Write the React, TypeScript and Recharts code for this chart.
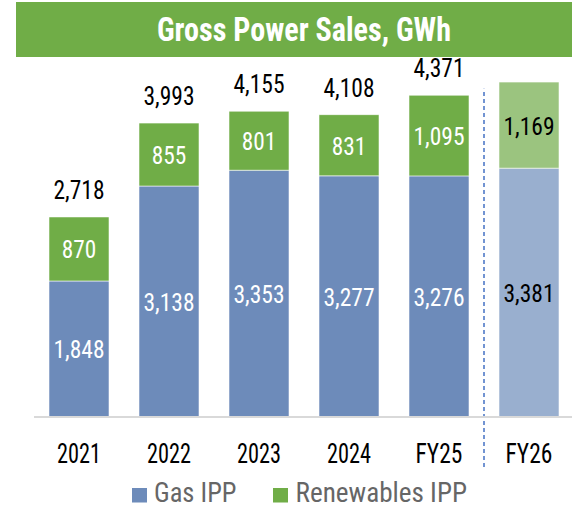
import React from 'react';
import { BarChart, Bar, XAxis, YAxis, Cell, LabelList, ReferenceLine, Legend } from 'recharts';

const categories = ['2021', '2022', '2023', '2024', 'FY25', 'FY26'];
const gasIPP = [1848, 3138, 3353, 3277, 3276, 3381];
const renewablesIPP = [870, 855, 801, 831, 1095, 1169];
const totals: (number | null)[] = [2718, 3993, 4155, 4108, 4371, null];
const forecastCategories = ['FY26'];
const seriesNames = ['Gas IPP', 'Renewables IPP'];
const chartTitle = 'Gross Power Sales, GWh';
const yDomain = [0, 5000];
const separatorAfter = 'FY25';
const separatorSpan = [-680, 4460];

const data = categories.map((c, i) => ({
  category: c,
  gas: gasIPP[i],
  renewables: renewablesIPP[i],
  total: totals[i],
}));

const FONT = "'Liberation Sans Narrow', 'Arial Narrow', 'Roboto Condensed', Roboto, sans-serif";
const GAS = '#6D8BBA';
const GAS_LIGHT = '#99AFCF';
const GREEN = '#70AD47';
const GREEN_LIGHT = '#9BC47F';

const fmt = (v: number) => v.toLocaleString('en-US');
const numWidth = (s: string, d: number, c: number) =>
  s.split('').reduce((a, ch) => a + (ch === ',' ? c : /[0-9]/.test(ch) ? d : d * 1.13), 0);

const isForecast = (i: number) => forecastCategories.includes(categories[i]);

const insideLabel = (props: any) => {
  const vb = props.viewBox ?? props;
  const { x, y, width, height } = vb;
  const { value, index } = props;
  if (value == null) return null;
  const s = fmt(Number(value));
  return (
    <text
      x={x + width / 2}
      y={y + height / 2 + 9.5}
      textAnchor="middle"
      fontFamily={FONT}
      fontSize={26.5}
      fill={isForecast(index) ? '#000' : '#fff'}
      textLength={numWidth(s, 11.5, 5)}
      lengthAdjust="spacingAndGlyphs"
    >
      {s}
    </text>
  );
};

const totalLabel = (props: any) => {
  const vb = props.viewBox ?? props;
  const { x, y, width } = vb;
  const { value } = props;
  if (value == null) return null;
  const s = fmt(Number(value));
  return (
    <text
      x={x + width / 2}
      y={y - 18}
      textAnchor="middle"
      fontFamily={FONT}
      fontSize={26}
      fill="#000"
      textLength={numWidth(s, 11.5, 5)}
      lengthAdjust="spacingAndGlyphs"
    >
      {s}
    </text>
  );
};

const renderTick = (props: any) => {
  const { x, y, payload } = props;
  const s = String(payload.value);
  return (
    <text
      x={x}
      y={y + 46}
      textAnchor="middle"
      fontFamily={FONT}
      fontSize={27}
      fill="#000"
      textLength={numWidth(s, 11, 5)}
      lengthAdjust="spacingAndGlyphs"
    >
      {s}
    </text>
  );
};

const renderLegend = () => (
  <svg width={572} height={32} style={{ display: 'block' }}>
    <rect x={132} y={10} width={15} height={14.5} fill={GAS} />
    <text
      x={154}
      y={24}
      fontFamily={FONT}
      fontSize={27}
      fill="#666"
      textLength={82.5}
      lengthAdjust="spacingAndGlyphs"
    >
      {seriesNames[0]}
    </text>
    <rect x={273} y={10} width={15} height={14.5} fill={GREEN} />
    <text
      x={295.5}
      y={24}
      fontFamily={FONT}
      fontSize={27}
      fill="#666"
      textLength={171.5}
      lengthAdjust="spacingAndGlyphs"
    >
      {seriesNames[1]}
    </text>
  </svg>
);

export default function App() {
  return (
    <div
      style={{
        position: 'absolute',
        left: 0,
        top: 0,
        width: 572,
        height: 510,
        overflow: 'hidden',
        background: '#fff',
      }}
    >
      <BarChart
        width={574}
        height={510}
        data={data}
        margin={{ top: 49, right: 0, left: 34, bottom: 0 }}
      >
        <YAxis hide domain={yDomain} type="number" />
        <XAxis
          dataKey="category"
          height={93}
          tickSize={0}
          tickMargin={0}
          tickLine={false}
          interval={0}
          axisLine={{ stroke: '#D9D9D9', strokeWidth: 2 }}
          tick={renderTick}
        />
        <Bar dataKey="gas" name={seriesNames[0]} stackId="s" barSize={60} isAnimationActive={false} stroke="rgba(255,255,255,0.55)" strokeWidth={1}>
          {data.map((d, i) => (
            <Cell key={d.category} fill={isForecast(i) ? GAS_LIGHT : GAS} />
          ))}
          <LabelList dataKey="gas" content={insideLabel} />
        </Bar>
        <Bar dataKey="renewables" name={seriesNames[1]} stackId="s" barSize={60} isAnimationActive={false} stroke="rgba(255,255,255,0.55)" strokeWidth={1}>
          {data.map((d, i) => (
            <Cell key={d.category} fill={isForecast(i) ? GREEN_LIGHT : GREEN} />
          ))}
          <LabelList dataKey="renewables" content={insideLabel} />
          <LabelList dataKey="total" content={totalLabel} />
        </Bar>
        <ReferenceLine
          segment={[
            { x: separatorAfter, y: separatorSpan[0] },
            { x: separatorAfter, y: separatorSpan[1] },
          ]}
          position="end"
          ifOverflow="visible"
          stroke="#4472C4"
          strokeWidth={1.5}
          strokeDasharray="4 3"
        />
        <Legend
          verticalAlign="middle"
          align="center"
          layout="horizontal"
          wrapperStyle={{ top: 478, left: 0, width: 572, height: 32 }}
          content={renderLegend}
        />
      </BarChart>
      <svg
        width={572}
        height={60}
        style={{ position: 'absolute', left: 0, top: 0, display: 'block' }}
      >
        <rect x={16} y={2} width={556} height={55} fill={GREEN} />
        <text
          x={304}
          y={41}
          textAnchor="middle"
          fontFamily={FONT}
          fontSize={32.5}
          fontWeight="bold"
          fill="#fff"
          textLength={294}
          lengthAdjust="spacingAndGlyphs"
        >
          {chartTitle}
        </text>
      </svg>
    </div>
  );
}
